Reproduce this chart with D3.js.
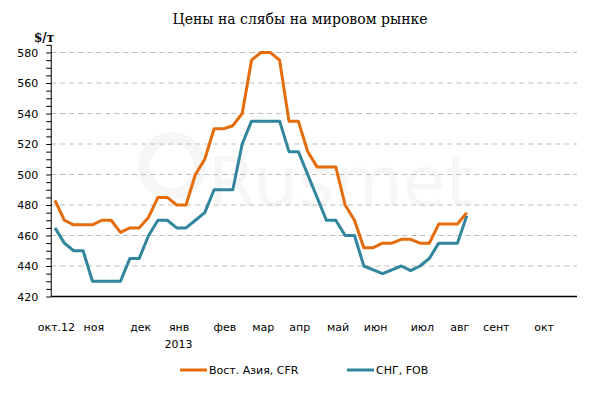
<!DOCTYPE html>
<html>
<head>
<meta charset="utf-8">
<script src="https://cdn.jsdelivr.net/npm/d3@7"></script>
<style>
  body { margin: 0; background: #fff; }
  .chart text { font-family: "DejaVu Sans", Verdana, sans-serif; font-size: 11px; fill: #000; }
  .chart .title { font-family: "DejaVu Serif", serif; font-size: 14px; }
  .chart .unit { font-family: "DejaVu Serif", serif; font-size: 12px; font-weight: bold; }
  .chart .watermark { font-size: 70px; fill: #f6f6f6; }
  .grid line { stroke: #bdbdbd; stroke-dasharray: 5,4; }
</style>
</head>
<body>
<svg class="chart"></svg>
<script>
// weekly prices, $/t, from oct 2012 to early aug 2013
var eastAsiaCFR = [483, 470, 467, 467, 467, 470, 470, 462, 465, 465,
                   472, 485, 485, 480, 480, 500, 510, 530, 530, 532,
                   540, 575, 580, 580, 575, 535, 535, 515, 505, 505,
                   505, 480, 470, 452, 452, 455, 455, 457.5, 457.5, 455,
                   455, 467.5, 467.5, 467.5, 475];
var cisFOB = [465, 455, 450, 450, 430, 430, 430, 430, 445, 445,
              460, 470, 470, 465, 465, 470, 475, 490, 490, 490,
              520, 535, 535, 535, 535, 515, 515, 500, 485, 470,
              470, 460, 460, 440, 437.5, 435, 437.5, 440, 437, 440,
              445, 455, 455, 455, 473];

var monthLabels = ["окт.12", "ноя", "дек", "янв", "фев", "мар", "апр", "май", "июн", "июл", "авг", "сент", "окт"];
var monthWeeks = [0.1, 4.1, 9.1, 13.2, 18.1, 22.2, 26.1, 30.2, 34.2, 39.2, 43.2, 47.1, 52.2];
var yTicks = d3.range(420, 586, 5);
var gridValues = d3.range(440, 581, 20);

var width = 600, height = 395;
var svg = d3.select(".chart").attr("width", width).attr("height", height);

var x = d3.scaleLinear().domain([0, 44]).range([55, 466.8]);
var y = d3.scaleLinear().domain([420, 580]).range([296.5, 52.5]);
var xLeft = x(-0.4), xRight = 577;

// faint watermark
svg.append("circle").attr("cx", 172).attr("cy", 166).attr("r", 28)
   .attr("fill", "none").attr("stroke", "#f6f6f6").attr("stroke-width", 12);
svg.append("text").attr("class", "watermark").attr("x", 208).attr("y", 206).text("Rusmet");

// gridlines
svg.append("g").attr("class", "grid")
   .selectAll("line").data(gridValues).enter().append("line")
   .attr("x1", xLeft).attr("x2", xRight)
   .attr("y1", function(d) { return y(d); })
   .attr("y2", function(d) { return y(d); });

// y axis
var yAxis = svg.append("g").attr("transform", "translate(" + xLeft + ",0)")
   .call(d3.axisLeft(y).tickValues(yTicks).tickSize(5).tickPadding(8)
     .tickFormat(function(d) { return d % 20 === 0 ? d : ""; }));
yAxis.select(".domain").attr("d", "M0," + y(585) + "V" + y(420));
yAxis.selectAll("line").attr("stroke", "#000");
yAxis.selectAll("text").attr("font-size", null);

// x axis
var xAxis = svg.append("g").attr("transform", "translate(0," + y(420) + ")")
   .call(d3.axisBottom(x).tickValues(monthWeeks).tickSize(0).tickPadding(27)
     .tickFormat(function(d, i) { return monthLabels[i]; }));
xAxis.select(".domain").attr("d", "M" + xLeft + ",0H" + xRight).attr("stroke-width", 1.5);
xAxis.selectAll("text").attr("font-size", null);
svg.append("text").attr("x", x(monthWeeks[3])).attr("y", 348)
   .attr("text-anchor", "middle").text("2013");

// lines
var line = d3.line()
   .x(function(d, i) { return x(i); })
   .y(function(d) { return y(d); });

svg.append("path").datum(cisFOB).attr("d", line)
   .attr("fill", "none").attr("stroke", "#31859c").attr("stroke-width", 3)
   .attr("stroke-linejoin", "round");
svg.append("path").datum(eastAsiaCFR).attr("d", line)
   .attr("fill", "none").attr("stroke", "#e46c0a").attr("stroke-width", 3)
   .attr("stroke-linejoin", "round");

// titles
svg.append("text").attr("class", "title").attr("x", 300).attr("y", 24)
   .attr("text-anchor", "middle").text("Цены на слябы на мировом рынке");
svg.append("text").attr("class", "unit").attr("x", 44).attr("y", 42)
   .attr("text-anchor", "middle").text("$/т");

// legend
var legend = [
  {name: "Вост. Азия, CFR", color: "#e46c0a", x: 180},
  {name: "СНГ, FOB", color: "#31859c", x: 347}
];
var leg = svg.selectAll(".legend").data(legend).enter().append("g")
   .attr("transform", function(d) { return "translate(" + d.x + ",370)"; });
leg.append("line").attr("x1", 0).attr("x2", 27)
   .attr("stroke", function(d) { return d.color; }).attr("stroke-width", 3);
leg.append("text").attr("x", 29).attr("dy", "0.35em").text(function(d) { return d.name; });
</script>
</body>
</html>
